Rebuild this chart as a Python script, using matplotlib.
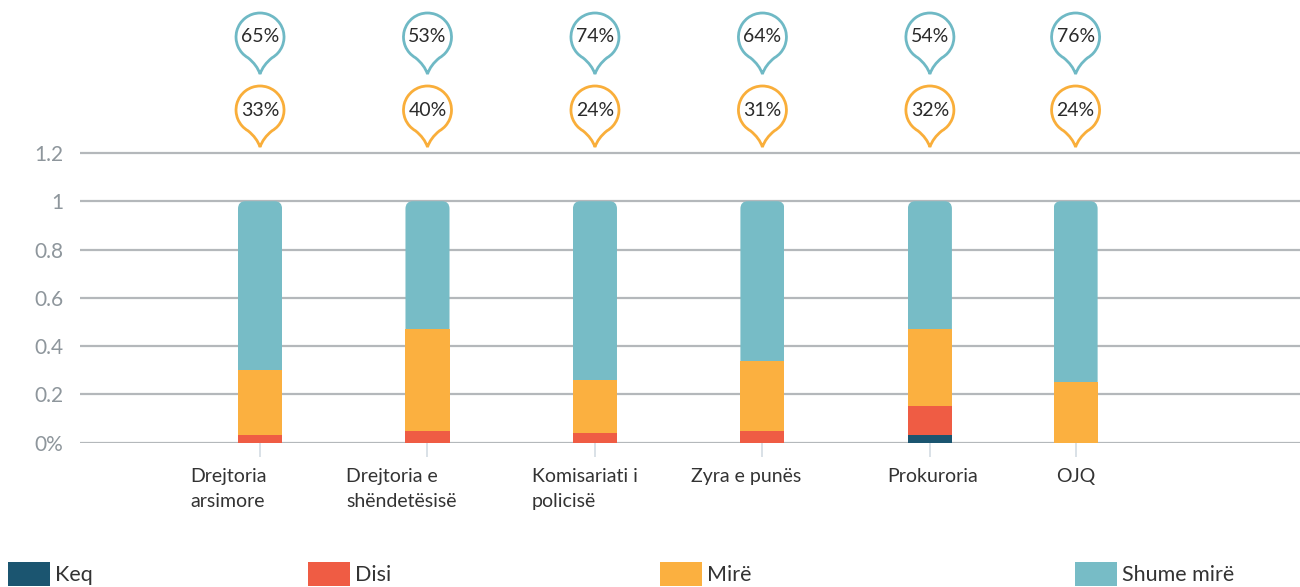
import matplotlib
matplotlib.use("Agg")
import matplotlib.pyplot as plt
import matplotlib.transforms as mtransforms
from matplotlib.path import Path
from matplotlib.patches import PathPatch, FancyBboxPatch, Rectangle
import numpy as np

plt.rcParams['font.family'] = ['Lato', 'DejaVu Sans']

# ---------------- data ----------------
categories = ["Drejtoria\narsimore", "Drejtoria e\nshëndetësisë", "Komisariati i\npolicisë",
              "Zyra e punës", "Prokuroria", "OJQ"]
series_names = ["Keq", "Disi", "Mirë", "Shume mirë"]
keq = [0.00, 0.00, 0.00, 0.00, 0.03, 0.00]
disi = [0.03, 0.05, 0.04, 0.05, 0.12, 0.00]
mire = [0.27, 0.42, 0.22, 0.29, 0.32, 0.25]
shume_mire = [0.70, 0.53, 0.74, 0.66, 0.53, 0.75]
callout_shume_mire = ["65%", "53%", "74%", "64%", "54%", "76%"]
callout_mire = ["33%", "40%", "24%", "31%", "32%", "24%"]
ytick_values = [0, 0.2, 0.4, 0.6, 0.8, 1.0, 1.2]
ytick_labels = ["0%", "0.2", "0.4", "0.6", "0.8", "1", "1.2"]

# ---------------- layout / style ----------------
x_pos = [0, 1, 2, 3, 4, 4.87]
label_dx_px = [-70, -81, -63, -71, -43, -19]
colors = ["#1B5570", "#EF5C44", "#FBB040", "#77BCC6"]
pin_colors = ["#6FB9C5", "#F9AE3A"]
bar_w = 0.263

W, H = 1300, 587
fig = plt.figure(figsize=(W / 100, H / 100), dpi=100)
ax_left, ax_right = 80, 1300
ax_bottom_px = 442.7  # from top
ax = fig.add_axes([ax_left / W, (H - ax_bottom_px) / H, (ax_right - ax_left) / W, ax_bottom_px / H])
ax.set_xlim(-1.075, 6.21)
ax.set_ylim(0, ax_bottom_px / 241.5)

for s in ax.spines.values():
    s.set_visible(False)

ax.set_yticks(ytick_values)
ax.set_yticklabels(ytick_labels, fontsize=15, color="#8E969C")
ax.yaxis.grid(True, color="#B4B8BB", linewidth=1.6)
ax.set_axisbelow(True)
ax.tick_params(axis='y', length=0, pad=12)

ax.set_xticks(x_pos)
ax.set_xticklabels([])
ax.tick_params(axis='x', length=10, width=1.2, color="#D3DCE3")

# category labels (left-aligned blocks below each bar)
for xp, lab, dx in zip(x_pos, categories, label_dx_px):
    tr = ax.get_xaxis_transform() + mtransforms.Affine2D().translate(dx, -25)
    ax.text(xp, 0, lab, transform=tr, ha="left", va="top", fontsize=14,
            color="#333333", linespacing=1.6, clip_on=False)

bottom = np.zeros(len(categories))
all_series = [keq, disi, mire, shume_mire]
for i, (vals, col) in enumerate(zip(all_series, colors)):
    bars = ax.bar(x_pos, vals, width=bar_w, bottom=bottom, color=col, zorder=3, linewidth=0)
    if i == len(all_series) - 1:
        aspect = (1 / 241.5) / (1 / 167.5)
        for r in bars:
            x0, y0 = r.get_xy()
            clip = FancyBboxPatch((x0, y0 - 0.05), r.get_width(), r.get_height() + 0.05,
                                  boxstyle="round,pad=0,rounding_size=0.045",
                                  mutation_aspect=aspect, transform=ax.transData)
            r.set_clip_path(clip)
    bottom += np.array(vals)

# ---------------- callout pins ----------------
def pin_path(r=24.0, tip=37.0, a=60.0):
    arc = Path.arc(-a, 180 + a)
    verts = list(arc.vertices * r)
    codes = list(arc.codes)
    xr, yr = verts[0]
    verts += [(-3.0, -28.0), (0.0, -tip), (3.0, -28.0), (xr, yr), (xr, yr)]
    codes += [Path.CURVE3, Path.CURVE3, Path.CURVE3, Path.CURVE3, Path.CLOSEPOLY]
    return Path(verts, codes)

pp = pin_path()
pin_rows = [(callout_shume_mire, pin_colors[0], (ax_bottom_px - 37) / 241.5),
            (callout_mire, pin_colors[1], (ax_bottom_px - 110) / 241.5)]
for labels, col, yc in pin_rows:
    for xp, lab in zip(x_pos, labels):
        tr = mtransforms.ScaledTranslation(xp, yc, ax.transData)
        patch = PathPatch(pp, facecolor="white", edgecolor=col, linewidth=2.0,
                          transform=mtransforms.IdentityTransform() + tr, clip_on=False, zorder=5)
        ax.add_patch(patch)
        ax.text(xp, yc, lab, ha="center", va="center", fontsize=14,
                color="#2A2A2A", zorder=6)

# ---------------- legend ----------------
leg_x = [8, 308, 660, 1075]
for lx, name, col in zip(leg_x, series_names, colors):
    fig.patches.append(Rectangle((lx / W, (H - 586) / H), 42 / W, 24 / H,
                                 transform=fig.transFigure, facecolor=col, edgecolor="none"))
    fig.text((lx + 47) / W, (H - 575) / H, name, ha="left", va="center",
             fontsize=15.5, color="#333333")

fig.savefig("out.png", dpi=100)
